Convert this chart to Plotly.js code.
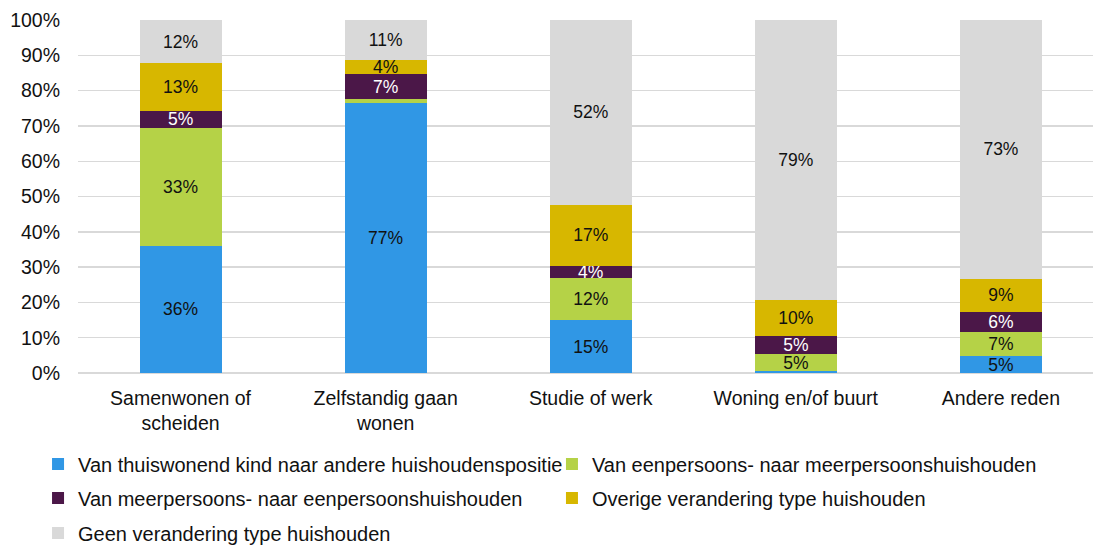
<!DOCTYPE html>
<html>
<head>
<meta charset="utf-8">
<script src="https://cdn.plot.ly/plotly-3.0.1.min.js"></script>
<style>
  body { margin: 0; background: #fff; }
  #chart { width: 1093px; height: 547px; }
</style>
</head>
<body>
<div id="chart"></div>
<script>
// categories and shares (%) per reason for moving
var categories = ['Samenwonen of<br>scheiden', 'Zelfstandig gaan<br>wonen', 'Studie of werk', 'Woning en/of buurt', 'Andere reden'];
var thuiswonendKind = [36.0, 76.6, 14.9, 0.5, 4.8];
var eenNaarMeer = [33.4, 0.9, 11.9, 4.8, 6.7];
var meerNaarEen = [4.9, 7.3, 3.6, 5.2, 5.8];
var overige = [13.4, 3.9, 17.3, 10.2, 9.4];
var geenVerandering = [12.3, 11.3, 52.3, 79.3, 73.3];

var seriesNames = [
  'Van thuiswonend kind naar andere huishoudenspositie',
  'Van eenpersoons- naar meerpersoonshuishouden',
  'Van meerpersoons- naar eenpersoonshuishouden',
  'Overige verandering type huishouden',
  'Geen verandering type huishouden'
];
var seriesValues = [thuiswonendKind, eenNaarMeer, meerNaarEen, overige, geenVerandering];

var colors = ['#3097e5', '#b5d247', '#4b1748', '#d7b700', '#d9d9d9'];
var labelColors = ['#111', '#111', '#fff', '#111', '#111'];

var font = 'Liberation Sans, Arial, sans-serif';

// one legend box per entry so the two-column grid can be placed exactly
var legendSpots = [[0.0348, 464], [0.505, 464], [0.0348, 498], [0.505, 498], [0.0348, 533]];

var traces = [];
for (var i = 0; i < seriesValues.length; i++) {
  var vals = seriesValues[i];
  var labels = [];
  for (var j = 0; j < vals.length; j++) {
    // tiny segments carry no label
    labels.push(vals[j] >= 2 ? Math.round(vals[j]) + '%' : '');
  }
  traces.push({
    type: 'bar',
    name: seriesNames[i],
    x: categories,
    y: vals,
    text: labels,
    textposition: 'inside',
    insidetextanchor: 'middle',
    constraintext: 'none',
    textangle: 0,
    textfont: {family: font, size: 17.5, color: labelColors[i]},
    marker: {color: colors[i], line: {width: 0}},
    legend: i === 0 ? 'legend' : 'legend' + (i + 1),
    hoverinfo: 'skip'
  });
}

function legendAt(spot) {
  return {
    orientation: 'h',
    xref: 'container', yref: 'container',
    x: spot[0], y: 1 - spot[1] / 547,
    xanchor: 'left', yanchor: 'middle',
    itemwidth: 30,
    font: {family: font, size: 20, color: '#111'},
    bgcolor: 'rgba(0,0,0,0)'
  };
}

var layout = {
  width: 1093,
  height: 547,
  margin: {l: 78, r: 0, t: 20, b: 174},
  barmode: 'stack',
  bargap: 0.6,
  paper_bgcolor: '#fff',
  plot_bgcolor: '#fff',
  showlegend: true,
  xaxis: {
    range: [-0.5, 4.449],
    showgrid: false,
    showline: false,
    ticks: '',
    ticklabelstandoff: 11,
    tickfont: {family: font, size: 19.5, color: '#111'},
    fixedrange: true
  },
  yaxis: {
    range: [0, 100],
    dtick: 10,
    ticksuffix: '%',
    showgrid: true,
    gridcolor: '#d9d9d9',
    gridwidth: 1.4,
    zeroline: true,
    zerolinecolor: '#d9d9d9',
    zerolinewidth: 2,
    showline: false,
    ticks: '',
    ticklabelstandoff: 17,
    tickfont: {family: font, size: 19.5, color: '#111'},
    fixedrange: true
  }
};
for (var k = 0; k < legendSpots.length; k++) {
  layout[k === 0 ? 'legend' : 'legend' + (k + 1)] = legendAt(legendSpots[k]);
}

Plotly.newPlot('chart', traces, layout, {displayModeBar: false, staticPlot: true});
</script>
</body>
</html>
